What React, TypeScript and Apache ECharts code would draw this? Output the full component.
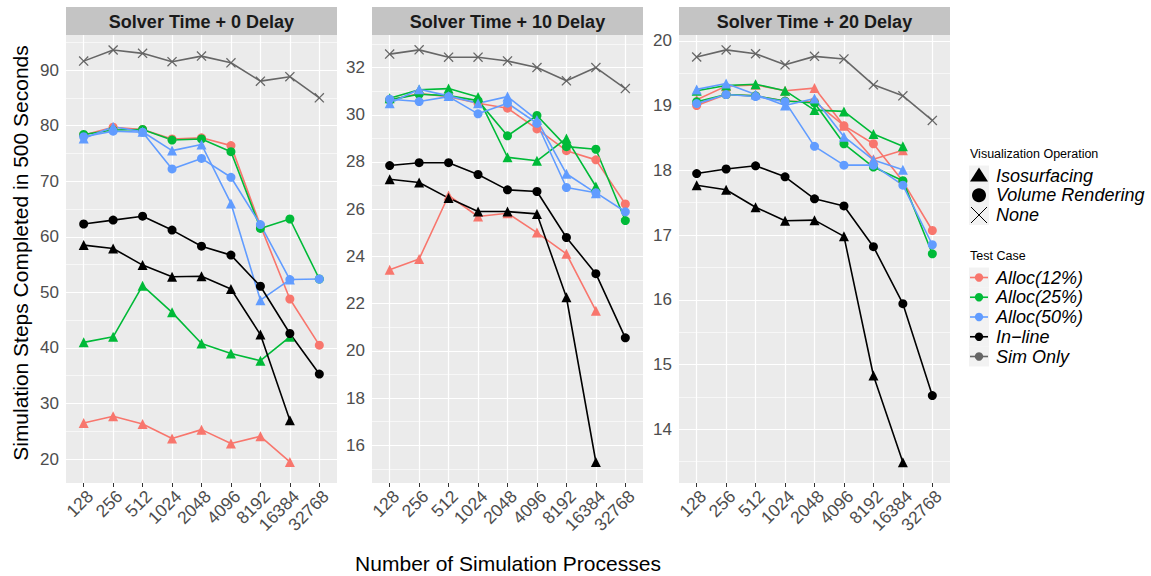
import React, { useEffect, useRef } from "react";
import * as echarts from "echarts";

const processes = ["128", "256", "512", "1024", "2048", "4096", "8192", "16384", "32768"];
const panelTitles = ["Solver Time + 0 Delay", "Solver Time + 10 Delay", "Solver Time + 20 Delay"];
const testCases = ["Alloc(12%)", "Alloc(25%)", "Alloc(50%)", "In\u2212line", "Sim Only"];
const visOps = ["Isosurfacing", "Volume Rendering", "None"];

// Panel 0: Solver Time + 0 Delay
const p0Alloc12Iso = [26.5, 27.7, 26.3, 23.7, 25.3, 22.8, 24.1, 19.5, null];
const p0Alloc12Vr = [78.3, 79.7, 79.3, 77.6, 77.8, 76.4, 62.0, 48.8, 40.5];
const p0Alloc25Iso = [41.0, 42.0, 51.2, 46.4, 40.8, 39.0, 37.7, 42.0, null];
const p0Alloc25Vr = [78.4, 79.2, 79.3, 77.4, 77.6, 75.3, 61.5, 63.2, 52.4];
const p0Alloc50Iso = [77.7, 79.8, 78.9, 75.5, 76.6, 66.0, 48.6, 52.3, null];
const p0Alloc50Vr = [78.0, 79.0, 78.8, 72.2, 74.1, 70.7, 62.2, 52.3, 52.4];
const p0InlineIso = [58.5, 57.9, 54.9, 52.8, 52.9, 50.6, 42.4, 27.0, null];
const p0InlineVr = [62.3, 63.0, 63.7, 61.2, 58.3, 56.7, 51.1, 42.6, 35.3];
const p0Sim = [91.6, 93.6, 93.0, 91.5, 92.5, 91.3, 88.0, 88.8, 85.0];

// Panel 1: Solver Time + 10 Delay
const p1Alloc12Iso = [23.43, 23.89, 26.58, 25.69, 25.83, 25.01, 24.11, 21.7, null];
const p1Alloc12Vr = [30.63, 30.9, 30.77, 30.49, 30.28, 29.4, 28.48, 28.09, 26.22];
const p1Alloc25Iso = [30.7, 31.06, 31.11, 30.75, 28.2, 28.05, 29.0, 26.96, null];
const p1Alloc25Vr = [30.63, 30.87, 30.81, 30.6, 29.11, 29.97, 28.65, 28.54, 25.52];
const p1Alloc50Iso = [30.49, 31.08, 30.8, 30.49, 30.77, 29.78, 27.5, 26.68, null];
const p1Alloc50Vr = [30.66, 30.56, 30.77, 30.04, 30.49, 29.64, 26.92, 26.7, 25.89];
const p1InlineIso = [27.27, 27.13, 26.47, 25.9, 25.9, 25.8, 22.27, 15.29, null];
const p1InlineVr = [27.85, 27.97, 27.97, 27.47, 26.82, 26.75, 24.8, 23.27, 20.55];
const p1Sim = [32.57, 32.75, 32.44, 32.44, 32.28, 32.0, 31.44, 32.0, 31.11];

// Panel 2: Solver Time + 20 Delay
const p2Alloc12Iso = [19.09, 19.3, 19.32, 19.23, 19.27, 18.69, 18.17, 18.31, null];
const p2Alloc12Vr = [19.0, 19.17, 19.15, 19.07, 19.06, 18.69, 18.41, 17.83, 17.07];
const p2Alloc25Iso = [19.23, 19.31, 19.33, 19.23, 18.93, 18.91, 18.56, 18.37, null];
const p2Alloc25Vr = [19.06, 19.17, 19.15, 19.07, 19.04, 18.41, 18.05, 17.84, 16.71];
const p2Alloc50Iso = [19.25, 19.34, 19.17, 19.0, 19.11, 18.52, 18.16, 18.01, null];
const p2Alloc50Vr = [19.03, 19.17, 19.14, 19.06, 18.37, 18.08, 18.08, 17.77, 16.85];
const p2InlineIso = [17.77, 17.7, 17.43, 17.22, 17.23, 16.98, 14.83, 13.49, null];
const p2InlineVr = [17.95, 18.02, 18.07, 17.9, 17.56, 17.45, 16.82, 15.94, 14.52];
const p2Sim = [19.75, 19.86, 19.8, 19.63, 19.76, 19.72, 19.32, 19.15, 18.77];

// Tick labels per panel
const p0Ticks = [20, 30, 40, 50, 60, 70, 80, 90];
const p0Minor = [25, 35, 45, 55, 65, 75, 85, 95];
const p1Ticks = [16, 18, 20, 22, 24, 26, 28, 30, 32];
const p1Minor = [15, 17, 19, 21, 23, 25, 27, 29, 31, 33];
const p2Ticks = [14, 15, 16, 17, 18, 19, 20];
const p2Minor = [13.5, 14.5, 15.5, 16.5, 17.5, 18.5, 19.5];

const panels = [
  { iso: [p0Alloc12Iso, p0Alloc25Iso, p0Alloc50Iso, p0InlineIso], vr: [p0Alloc12Vr, p0Alloc25Vr, p0Alloc50Vr, p0InlineVr], sim: p0Sim, ticks: p0Ticks, minor: p0Minor, min: 15.7, max: 96.3 },
  { iso: [p1Alloc12Iso, p1Alloc25Iso, p1Alloc50Iso, p1InlineIso], vr: [p1Alloc12Vr, p1Alloc25Vr, p1Alloc50Vr, p1InlineVr], sim: p1Sim, ticks: p1Ticks, minor: p1Minor, min: 14.4, max: 33.38 },
  { iso: [p2Alloc12Iso, p2Alloc25Iso, p2Alloc50Iso, p2InlineIso], vr: [p2Alloc12Vr, p2Alloc25Vr, p2Alloc50Vr, p2InlineVr], sim: p2Sim, ticks: p2Ticks, minor: p2Minor, min: 13.17, max: 20.09 },
];

const caseColors = ["#F8766D", "#00BA38", "#619CFF", "#000000", "#666666"];
const FONT = "'Liberation Sans', Arial, Helvetica, sans-serif";
const panelLefts = [66, 372, 679];
const PANEL_W = 271;
const PANEL_TOP = 35;
const PANEL_H = 448;
const CROSS = "path://M0,0.9L0.9,0L5,4.1L9.1,0L10,0.9L5.9,5L10,9.1L9.1,10L5,5.9L0.9,10L0,9.1L4.1,5Z";

function toPairs(arr: (number | null)[]) {
  return arr.map((v, i) => [i, v]).filter((d) => d[1] !== null);
}

export default function App() {
  const ref = useRef<HTMLDivElement>(null);
  useEffect(() => {
    if (!ref.current) return;
    const chart = echarts.init(ref.current, undefined, { renderer: "svg" });
    const idx = processes.map((_, i) => i);

    const grids: any[] = [];
    const xAxes: any[] = [];
    const yAxes: any[] = [];
    const series: any[] = [];
    const graphics: any[] = [];

    panels.forEach((p, k) => {
      grids.push({ left: panelLefts[k], top: PANEL_TOP, width: PANEL_W, height: PANEL_H, show: true, backgroundColor: "#EBEBEB", borderWidth: 0, containLabel: false });
      xAxes.push({
        type: "value", gridIndex: k, min: -0.6, max: 8.6,
        axisLine: { show: false },
        splitLine: { show: false },
        axisTick: { show: true, length: 4, lineStyle: { color: "#333333", width: 1 }, customValues: idx },
        axisLabel: { show: true, customValues: idx, rotate: 45, margin: 4, fontSize: 17.5, color: "#4D4D4D", fontFamily: FONT, align: "right", verticalAlign: "top", formatter: (v: number) => processes[Math.round(v)] ?? "" },
      });
      yAxes.push({
        type: "value", gridIndex: k, min: p.min, max: p.max,
        axisLine: { show: false },
        splitLine: { show: false },
        axisTick: { show: true, length: 4, lineStyle: { color: "#333333", width: 1 }, customValues: p.ticks },
        axisLabel: { show: true, customValues: p.ticks, margin: 7, fontSize: 17, color: "#4D4D4D", fontFamily: FONT },
      });
      const mlData: any[] = [];
      p.minor.forEach((v) => mlData.push({ yAxis: v, lineStyle: { color: "#FFFFFF", width: 0.6, type: "solid" } }));
      p.ticks.forEach((v) => mlData.push({ yAxis: v, lineStyle: { color: "#FFFFFF", width: 1.2, type: "solid" } }));
      idx.forEach((v) => mlData.push({ xAxis: v, lineStyle: { color: "#FFFFFF", width: 1.2, type: "solid" } }));
      series.push({
        type: "line", name: "grid" + k, xAxisIndex: k, yAxisIndex: k, data: [], silent: true, z: 1,
        markLine: { silent: true, symbol: "none", z: 1, label: { show: false }, animation: false, data: mlData },
      });
      for (let c = 0; c < 4; c++) {
        series.push({
          type: "line", name: testCases[c] + " / " + visOps[0], xAxisIndex: k, yAxisIndex: k, z: 3,
          data: toPairs(p.iso[c]), symbol: "triangle", symbolSize: 10,
          lineStyle: { color: caseColors[c], width: 1.6 }, itemStyle: { color: caseColors[c] },
        });
        series.push({
          type: "line", name: testCases[c] + " / " + visOps[1], xAxisIndex: k, yAxisIndex: k, z: 3,
          data: toPairs(p.vr[c]), symbol: "circle", symbolSize: 9,
          lineStyle: { color: caseColors[c], width: 1.6 }, itemStyle: { color: caseColors[c] },
        });
      }
      series.push({
        type: "line", name: testCases[4] + " / " + visOps[2], xAxisIndex: k, yAxisIndex: k, z: 3,
        data: toPairs(p.sim), symbol: CROSS, symbolSize: 10,
        lineStyle: { color: caseColors[4], width: 1.6 }, itemStyle: { color: caseColors[4] },
      });

      graphics.push({ type: "rect", shape: { x: panelLefts[k], y: 7, width: PANEL_W, height: 28 }, style: { fill: "#C4C4C4" }, silent: true });
      graphics.push({ type: "text", x: panelLefts[k] + PANEL_W / 2, y: 21.5, style: { text: panelTitles[k], fill: "#1A1A1A", font: `bold 18px ${FONT}`, textAlign: "center", textVerticalAlign: "middle" }, silent: true });
    });

    // axis titles
    graphics.push({ type: "text", x: 508, y: 563, style: { text: "Number of Simulation Processes", fill: "#000000", font: `21px ${FONT}`, textAlign: "center", textVerticalAlign: "middle" } });
    graphics.push({ type: "text", x: 20, y: 253, rotation: Math.PI / 2, style: { text: "Simulation Steps Completed in 500 Seconds", fill: "#000000", font: `21px ${FONT}`, textAlign: "center", textVerticalAlign: "middle" } });

    // legend 1
    const lx = 969;
    graphics.push({ type: "text", x: 970, y: 154, style: { text: "Visualization Operation", fill: "#000000", font: `12.5px ${FONT}`, textVerticalAlign: "middle" } });
    const g1 = [175.5, 195.3, 215.0];
    g1.forEach((cy, i) => {
      graphics.push({ type: "rect", shape: { x: lx, y: cy - 10, width: 20, height: 20 }, style: { fill: "#F2F2F2" } });
      graphics.push({ type: "text", x: 996, y: cy, style: { text: visOps[i], fill: "#000000", font: `italic 18px ${FONT}`, textVerticalAlign: "middle" } });
    });
    graphics.push({ type: "polygon", shape: { points: [[970, g1[0] + 6], [988, g1[0] + 6], [979, g1[0] - 8]] }, style: { fill: "#000000" } });
    graphics.push({ type: "circle", shape: { cx: 979, cy: g1[1], r: 7 }, style: { fill: "#000000" } });
    graphics.push({ type: "line", shape: { x1: 971, y1: g1[2] - 8, x2: 987, y2: g1[2] + 8 }, style: { stroke: "#000000", lineWidth: 1 } });
    graphics.push({ type: "line", shape: { x1: 987, y1: g1[2] - 8, x2: 971, y2: g1[2] + 8 }, style: { stroke: "#000000", lineWidth: 1 } });

    // legend 2
    graphics.push({ type: "text", x: 970, y: 256, style: { text: "Test Case", fill: "#000000", font: `12.5px ${FONT}`, textVerticalAlign: "middle" } });
    testCases.forEach((name, i) => {
      const cy = 277.5 + i * 19.75;
      graphics.push({ type: "rect", shape: { x: lx, y: cy - 10, width: 20, height: 20 }, style: { fill: "#F2F2F2" } });
      graphics.push({ type: "line", shape: { x1: 970, y1: cy, x2: 988, y2: cy }, style: { stroke: caseColors[i], lineWidth: 1.6 } });
      graphics.push({ type: "circle", shape: { cx: 979, cy, r: 4.2 }, style: { fill: caseColors[i] } });
      graphics.push({ type: "text", x: 996, y: cy, style: { text: name, fill: "#000000", font: `italic 18px ${FONT}`, textVerticalAlign: "middle" } });
    });

    chart.setOption({
      animation: false,
      backgroundColor: "#FFFFFF",
      textStyle: { fontFamily: FONT },
      grid: grids,
      xAxis: xAxes,
      yAxis: yAxes,
      series,
      graphic: graphics,
    });
    return () => chart.dispose();
  }, []);
  return <div ref={ref} style={{ position: "fixed", left: 0, top: 0, width: 1151, height: 576 }} />;
}
